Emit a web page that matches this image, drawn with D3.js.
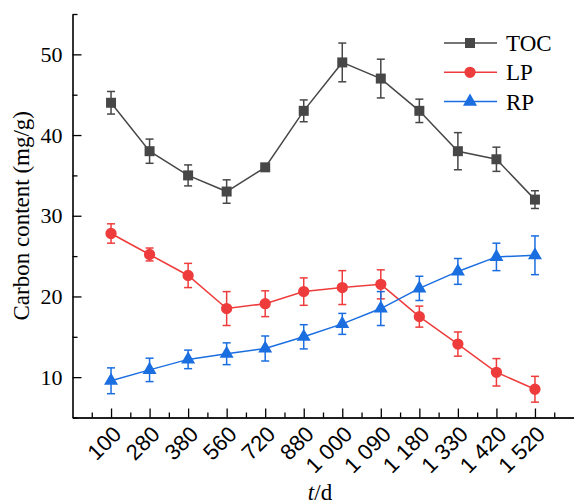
<!DOCTYPE html>
<html>
<head>
<meta charset="utf-8">
<script src="https://cdn.jsdelivr.net/npm/d3@7"></script>
<style>
  body { margin: 0; background: #fff; }
  svg { display: block; font-family: "Liberation Serif", "Times New Roman", serif; }
</style>
</head>
<body>
<script>
const days = ['100', '280', '380', '560', '720', '880', '1 000', '1 090', '1 180', '1 330', '1 420', '1 520'];

const toc = [44, 38, 35, 33, 36, 43, 49, 47, 43, 38, 37, 32];
const tocErr = [1.4, 1.5, 1.3, 1.45, 0.4, 1.35, 2.4, 2.4, 1.45, 2.3, 1.5, 1.1];

const lp = [27.8, 25.2, 22.6, 18.5, 19.1, 20.6, 21.1, 21.5, 17.5, 14.1, 10.6, 8.5];
const lpErr = [1.2, 0.8, 1.5, 2.1, 1.6, 1.7, 2.1, 1.8, 1.3, 1.5, 1.7, 1.6];

const rp = [9.55, 10.9, 12.2, 12.9, 13.55, 15.0, 16.6, 18.5, 21.0, 23.1, 24.9, 25.1];
const rpErr = [1.6, 1.45, 1.15, 1.35, 1.55, 1.5, 1.3, 2.1, 1.5, 1.6, 1.7, 2.4];

const yTicks = [10, 20, 30, 40, 50];
const yMinor = [5, 15, 25, 35, 45, 55];

const series = [
  { name: 'TOC', values: toc, err: tocErr, color: '#474747', shape: 'square' },
  { name: 'LP', values: lp, err: lpErr, color: '#ee3c3c', shape: 'circle' },
  { name: 'RP', values: rp, err: rpErr, color: '#1a6ee0', shape: 'triangle' },
];

const W = 574, H = 504;

const x = d3.scaleLinear().domain([-1, 12]).range([72.5, 573.5]);
const y = d3.scaleLinear().domain([5, 55]).range([417.5, 14]);

const svg = d3.select('body').append('svg')
  .attr('width', W)
  .attr('height', H);

// x axis: major ticks at categories, minor ticks between
svg.append('g')
  .attr('transform', `translate(0,${y(5)})`)
  .call(d3.axisBottom(x).tickValues(d3.range(-0.5, 12, 1)).tickSize(-5).tickSizeOuter(0).tickFormat(''))
  .call(g => g.selectAll('line').attr('stroke', '#000').attr('stroke-width', 1.3));

const xAxis = svg.append('g')
  .attr('transform', `translate(0,${y(5)})`)
  .call(d3.axisBottom(x).tickValues(d3.range(days.length)).tickSize(-9).tickSizeOuter(0).tickFormat(''));
xAxis.select('.domain').attr('stroke', '#000').attr('stroke-width', 1.6);
xAxis.selectAll('.tick line').attr('stroke', '#000').attr('stroke-width', 1.3);
xAxis.selectAll('.tick').append('text')
  .attr('fill', '#000')
  .attr('font-size', 22)
  .attr('text-anchor', 'end')
  .attr('transform', 'translate(11,18) rotate(-45)')
  .text(i => days[i]);

// y axis
svg.append('g')
  .attr('transform', `translate(${x(-1)},0)`)
  .call(d3.axisLeft(y).tickValues(yMinor).tickSize(-5).tickSizeOuter(0).tickFormat(''))
  .call(g => g.select('.domain').remove())
  .call(g => g.selectAll('line').attr('stroke', '#000').attr('stroke-width', 1.3));

const yAxis = svg.append('g')
  .attr('transform', `translate(${x(-1)},0)`)
  .call(d3.axisLeft(y).tickValues(yTicks).tickSize(-9).tickSizeOuter(0).tickPadding(10));
yAxis.select('.domain').attr('stroke', '#000').attr('stroke-width', 1.6);
yAxis.selectAll('.tick line').attr('stroke', '#000').attr('stroke-width', 1.3);
yAxis.selectAll('.tick text')
  .attr('fill', '#000')
  .attr('font-size', 22)
  .attr('font-family', '"Liberation Serif", serif');

// axis titles
svg.append('text')
  .attr('transform', `translate(29,${(y(5) + y(55)) / 2}) rotate(-90)`)
  .attr('text-anchor', 'middle')
  .attr('font-size', 23)
  .text('Carbon content (mg/g)');

const xt = svg.append('text')
  .attr('x', 320)
  .attr('y', 500)
  .attr('text-anchor', 'middle')
  .attr('font-size', 23);
xt.append('tspan').attr('font-style', 'italic').text('t');
xt.append('tspan').text('/d');

const symbolFor = shape => {
  if (shape === 'square') return d3.symbol(d3.symbolSquare, 100);
  if (shape === 'circle') return d3.symbol(d3.symbolCircle, 100);
  return d3.symbol(d3.symbolTriangle, 85);
};

const line = d3.line()
  .x((d, i) => x(i))
  .y(d => y(d));

series.forEach(s => {
  const g = svg.append('g');

  g.append('path')
    .attr('d', line(s.values))
    .attr('fill', 'none')
    .attr('stroke', s.color)
    .attr('stroke-width', 1.5);

  const eb = g.selectAll('.err')
    .data(s.values)
    .join('g');
  eb.append('line')
    .attr('x1', (d, i) => x(i))
    .attr('x2', (d, i) => x(i))
    .attr('y1', (d, i) => y(d - s.err[i]))
    .attr('y2', (d, i) => y(d + s.err[i]))
    .attr('stroke', s.color)
    .attr('stroke-width', 1.5);
  [-1, 1].forEach(sign => {
    eb.append('line')
      .attr('x1', (d, i) => x(i) - 4)
      .attr('x2', (d, i) => x(i) + 4)
      .attr('y1', (d, i) => y(d + sign * s.err[i]))
      .attr('y2', (d, i) => y(d + sign * s.err[i]))
      .attr('stroke', s.color)
      .attr('stroke-width', 1.5);
  });

  g.selectAll('.mark')
    .data(s.values)
    .join('path')
    .attr('transform', (d, i) => `translate(${x(i)},${y(d)})`)
    .attr('d', symbolFor(s.shape)())
    .attr('fill', s.color);
});

// legend
const legend = svg.append('g');
series.forEach((s, k) => {
  const ly = 43 + k * 29.3;
  legend.append('line')
    .attr('x1', 444).attr('x2', 497)
    .attr('y1', ly).attr('y2', ly)
    .attr('stroke', s.color)
    .attr('stroke-width', 1.5);
  legend.append('path')
    .attr('transform', `translate(470,${ly})`)
    .attr('d', symbolFor(s.shape)())
    .attr('fill', s.color);
  legend.append('text')
    .attr('x', 506)
    .attr('y', ly + 8)
    .attr('font-size', 23)
    .text(s.name);
});
</script>
</body>
</html>
